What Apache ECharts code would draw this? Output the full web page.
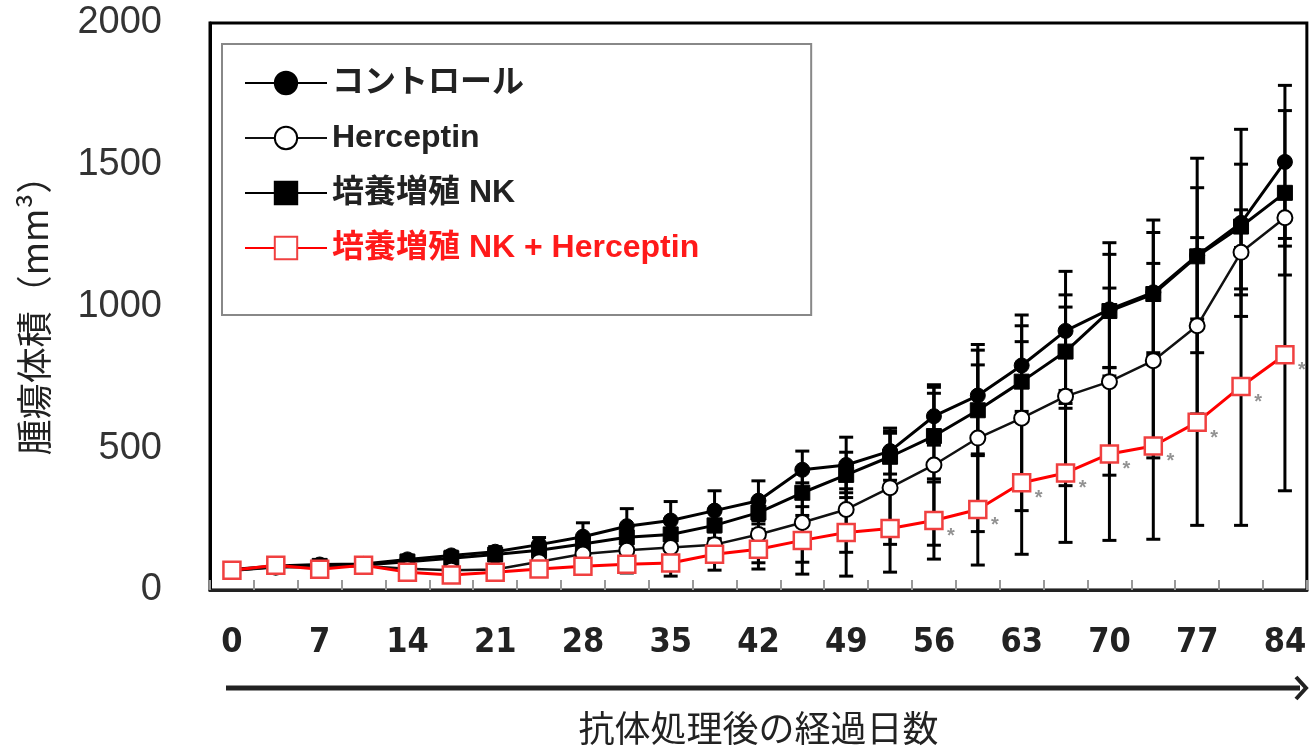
<!DOCTYPE html>
<html>
<head>
<meta charset="utf-8">
<script src="https://cdn.jsdelivr.net/npm/echarts@6/dist/echarts.min.js"></script>
<style>
html,body{margin:0;padding:0;background:#fff;}
#main{width:1309px;height:751px;}
</style>
</head>
<body>
<div id="main"></div>
<script>
// ---- data ----
var days = ['0','3.5','7','10.5','14','17.5','21','24.5','28','31.5','35','38.5','42','45.5','49','52.5','56','59.5','63','66.5','70','73.5','77','80.5','84'];
var seriesNames = ['コントロール', 'Herceptin', '培養増殖 NK', '培養増殖 NK + Herceptin'];
var yTicks = [0, 500, 1000, 1500, 2000];

var controlMean = [72, 85, 90, 92, 108, 122, 135, 160, 188, 225, 245, 280, 315, 424, 441, 490, 613, 686, 792, 914, 990, 1050, 1180, 1295, 1510];
var controlSd   = [8, 12, 12, 12, 15, 15, 18, 25, 49, 62, 67, 70, 70, 66, 98, 81, 102, 160, 178, 210, 235, 255, 343, 330, 270];

var hercMean = [68, 80, 80, 85, 75, 70, 72, 100, 127, 140, 150, 160, 196, 238, 284, 361, 441, 536, 606, 683, 735, 809, 932, 1191, 1313];
var hercSd   = [6, 10, 10, 10, 10, 10, 12, 15, 20, 25, 35, 45, 100, 140, 151, 200, 283, 330, 326, 315, 330, 343, 311, 150, 100];

var nkMean = [70, 82, 85, 88, 100, 112, 125, 140, 162, 186, 196, 228, 273, 343, 406, 470, 543, 634, 735, 841, 984, 1044, 1177, 1282, 1401];
var nkSd   = [8, 10, 10, 12, 12, 15, 18, 22, 30, 40, 45, 50, 40, 80, 80, 83, 151, 160, 141, 200, 200, 217, 242, 220, 290];

var nkHercMean = [70, 87, 73, 87, 63, 53, 63, 74, 84, 91, 95, 126, 144, 175, 203, 217, 245, 284, 378, 413, 480, 508, 592, 718, 830];
var nkHercSd   = [6, 8, 8, 8, 8, 8, 10, 15, 20, 31, 46, 56, 70, 119, 154, 154, 136, 196, 252, 245, 305, 329, 364, 490, 480];

// significance markers (*) for NK + Herceptin
var nkHercSig = [0,0,0,0,0,0,0,0,0,0,0,0,0,0,0,0,1,1,1,1,1,1,1,1,1];

// ---- chart ----
var chart = echarts.init(document.getElementById('main'), null, {renderer: 'canvas'});

function errSeries(means, sds) {
  return {
    type: 'custom',
    silent: true,
    z: 1,
    xAxisIndex: 0, yAxisIndex: 0,
    renderItem: function (params, api) {
      var i = api.value(0), m = api.value(1), s = api.value(2);
      var top = api.coord([i, m + s]);
      var bot = api.coord([i, Math.max(0, m - s)]);
      var hw = 7;
      var st = {stroke: '#000', lineWidth: 3};
      return {
        type: 'group',
        children: [
          {type: 'line', shape: {x1: top[0], y1: top[1], x2: bot[0], y2: bot[1]}, style: st},
          {type: 'line', shape: {x1: top[0] - hw, y1: top[1], x2: top[0] + hw, y2: top[1]}, style: st},
          {type: 'line', shape: {x1: bot[0] - hw, y1: bot[1], x2: bot[0] + hw, y2: bot[1]}, style: st}
        ]
      };
    },
    encode: {x: 0, y: 1},
    data: means.map(function (m, i) { return [i, m, sds[i]]; })
  };
}

var latin = '"Liberation Sans", Arial, "Noto Sans CJK JP", sans-serif';
var cjk = '"Noto Sans CJK JP", "Liberation Sans", sans-serif';
var narrow = '"Liberation Sans Narrow", "DejaVu Sans Condensed", "Liberation Sans", sans-serif';

var option = {
  backgroundColor: '#fff',
  animation: false,
  grid: {
    left: 210, top: 23, right: -8, bottom: 158,
    show: true, borderColor: '#000', borderWidth: 3, backgroundColor: 'transparent'
  },
  legend: {
    orient: 'vertical',
    left: 222, top: 44,
    padding: [23, 112, 51, 22],
    itemGap: 23,
    itemWidth: 82,
    itemHeight: 28,
    borderColor: '#888',
    borderWidth: 2,
    backgroundColor: '#fff',
    textStyle: {fontSize: 32, fontWeight: 'bold', color: '#222', fontFamily: latin},
    data: [
      {name: seriesNames[0]},
      {name: seriesNames[1]},
      {name: seriesNames[2]},
      {name: seriesNames[3], textStyle: {color: '#ff1a1a'}}
    ]
  },
  xAxis: [
    {
      type: 'category',
      data: days,
      boundaryGap: true,
      position: 'bottom',
      axisLine: {show: true, lineStyle: {color: '#222', width: 3}},
      axisTick: {show: true, inside: true, length: 10, interval: 0, lineStyle: {color: '#999', width: 2}},
      axisLabel: {show: false},
      splitLine: {show: false}
    },
    {
      type: 'category',
      data: days,
      boundaryGap: true,
      position: 'bottom',
      axisLine: {show: false},
      axisTick: {show: false},
      axisLabel: {
        show: true, interval: 1, margin: 36,
        fontSize: 34, color: '#222', fontFamily: narrow, fontWeight: 'bold'
      },
      name: '抗体処理後の経過日数',
      nameLocation: 'middle',
      nameGap: 120,
      nameTextStyle: {fontSize: 36, color: '#222', fontFamily: cjk}
    }
  ],
  yAxis: {
    type: 'value',
    min: 0, max: 2000, interval: 500,
    axisLine: {show: true, lineStyle: {color: '#000', width: 3}},
    axisTick: {show: false},
    splitLine: {show: false},
    axisLabel: {
      fontSize: 38, color: '#333', fontFamily: latin, margin: 48,
      formatter: function (v) { return yTicks.indexOf(v) >= 0 ? String(v) : ''; }
    },
    name: '腫瘍体積（mm³）',
    nameLocation: 'middle',
    nameGap: 158,
    nameRotate: 90,
    nameTextStyle: {fontSize: 36, color: '#222', fontFamily: cjk}
  },
  graphic: [
    {type: 'line', shape: {x1: 226, y1: 688, x2: 1300, y2: 688}, style: {stroke: '#222', lineWidth: 5}, z: 100},
    {type: 'polyline', shape: {points: [[1296, 677], [1306, 688], [1296, 699]]}, style: {stroke: '#222', lineWidth: 4, fill: null}, z: 100}
  ],
  series: [
    errSeries(controlMean, controlSd),
    errSeries(hercMean, hercSd),
    errSeries(nkMean, nkSd),
    errSeries(nkHercMean, nkHercSd),
    {
      name: seriesNames[0], type: 'line', z: 3,
      data: controlMean,
      symbol: 'circle', symbolSize: 15, showAllSymbol: true,
      lineStyle: {color: '#000', width: 3},
      itemStyle: {color: '#000', borderColor: '#000', borderWidth: 1}
    },
    {
      name: seriesNames[1], type: 'line', z: 4,
      data: hercMean,
      symbol: 'circle', symbolSize: 15, showAllSymbol: true,
      lineStyle: {color: '#111', width: 2.5},
      itemStyle: {color: '#fff', borderColor: '#000', borderWidth: 2}
    },
    {
      name: seriesNames[2], type: 'line', z: 3,
      data: nkMean,
      symbol: 'rect', symbolSize: 15, showAllSymbol: true,
      lineStyle: {color: '#000', width: 3},
      itemStyle: {color: '#000', borderColor: '#000', borderWidth: 1}
    },
    {
      name: seriesNames[3], type: 'line', z: 5,
      data: nkHercMean,
      symbol: 'rect', symbolSize: 17, showAllSymbol: true,
      lineStyle: {color: '#ff0000', width: 3},
      itemStyle: {color: '#fff', borderColor: '#f04040', borderWidth: 2.5}
    },
    {
      name: 'sig', type: 'scatter', z: 6, silent: true,
      symbolSize: 0,
      data: nkHercMean.map(function (v, i) { return nkHercSig[i] ? v : '-'; }),
      label: {
        show: true, position: 'inside', formatter: '*',
        offset: [17, 16], fontSize: 20, color: '#777', fontFamily: latin, fontWeight: 'bold'
      }
    }
  ]
};
chart.setOption(option);
</script>
</body>
</html>
